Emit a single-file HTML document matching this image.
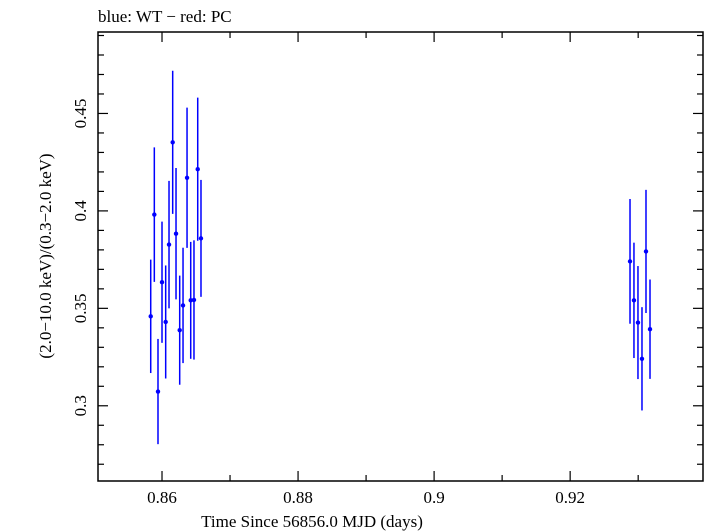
<!DOCTYPE html>
<html><head><meta charset="utf-8"><style>
body{margin:0;background:#fff;}
svg{display:block;font-family:"Liberation Serif",serif;}
</style></head><body>
<svg id="chart" width="705" height="532" viewBox="0 0 705 532" xmlns="http://www.w3.org/2000/svg">
<text x="98" y="22" font-size="17">blue: WT − red: PC</text>
<rect x="98" y="32" width="605" height="449" fill="none" stroke="#000" stroke-width="1.5"/>
<g id="axes"></g>
<g id="marks"></g>
<text x="312" y="527" font-size="17" text-anchor="middle">Time Since 56856.0 MJD (days)</text>
<text transform="translate(51,256) rotate(-90)" font-size="17" text-anchor="middle">(2.0−10.0 keV)/(0.3−2.0 keV)</text>
</svg>
<script>
const times = [0.85834,0.85887,0.85941,0.86,0.86054,0.86103,0.86157,0.86206,0.8626,0.86309,0.86368,0.86422,0.8647,0.86525,0.86573,0.9288,0.92938,0.92997,0.93056,0.93115,0.93174];
const ratios = [0.3459,0.3981,0.3073,0.3634,0.343,0.3827,0.4352,0.3883,0.3388,0.3515,0.417,0.3541,0.3543,0.4214,0.3859,0.3741,0.3541,0.3427,0.3241,0.3792,0.3393];
const errors = [0.0291,0.0345,0.027,0.0311,0.029,0.0327,0.0367,0.0337,0.028,0.0296,0.036,0.030,0.0306,0.0367,0.030,0.032,0.0296,0.029,0.0265,0.0316,0.0255];
const xTicks = [0.86,0.88,0.9,0.92];
const xTickLabels = ["0.86","0.88","0.9","0.92"];
const yTicks = [0.3,0.35,0.4,0.45];
const yTickLabels = ["0.3","0.35","0.4","0.45"];

const L=98,R=703,T=32,B=481;
const xMin=0.85059,xMax=0.93953,yMin=0.2614,yMax=0.4918;
const xs=v=>L+(v-xMin)/(xMax-xMin)*(R-L);
const ys=v=>B-(v-yMin)/(yMax-yMin)*(B-T);
const NS="http://www.w3.org/2000/svg";
const axes=document.getElementById('axes');
const marks=document.getElementById('marks');
function mk(tag,attrs,parent){const e=document.createElementNS(NS,tag);for(const k in attrs)e.setAttribute(k,attrs[k]);parent.appendChild(e);return e;}

for(let k=86;k<=93;k++){
  const v=k/100;const x=xs(v);if(x>R)continue;
  const len=(k%2===0)?10:6;
  const t1=mk('line',{x1:x,x2:x,y1:B,y2:B-len,stroke:'#000','stroke-width':1.2},axes);
  
  
  const t2=mk('line',{x1:x,x2:x,y1:T,y2:T+len,stroke:'#000','stroke-width':1.2},axes);
  
  
}
xTicks.forEach((v,i)=>{
  const t=mk('text',{x:xs(v),y:503,'font-size':17,'text-anchor':'middle'},axes);
  t.textContent=xTickLabels[i];
  
  
});
for(let k=27;k<=49;k++){
  const v=k/100;const y=ys(v);if(y<T||y>B)continue;
  const len=(k%5===0)?10:6;
  const t1=mk('line',{x1:L,x2:L+len,y1:y,y2:y,stroke:'#000','stroke-width':1.2},axes);
  
  
  const t2=mk('line',{x1:R,x2:R-len,y1:y,y2:y,stroke:'#000','stroke-width':1.2},axes);
  
  
}
yTicks.forEach((v,i)=>{
  const y=ys(v);
  const t=mk('text',{transform:`translate(86,${y}) rotate(-90)`,'font-size':17,'text-anchor':'middle'},axes);
  t.textContent=yTickLabels[i];
  
  
});
times.forEach((tv,i)=>{
  const x=xs(tv),y=ys(ratios[i]);
  const bar=mk('line',{x1:x,x2:x,y1:ys(ratios[i]+errors[i]),y2:ys(ratios[i]-errors[i]),stroke:'#0000ff','stroke-width':1.5},marks);
  
  
  const p=mk('circle',{cx:x,cy:y,r:2.2,fill:'#0000ff'},marks);
  
  
});
</script>
</body></html>
